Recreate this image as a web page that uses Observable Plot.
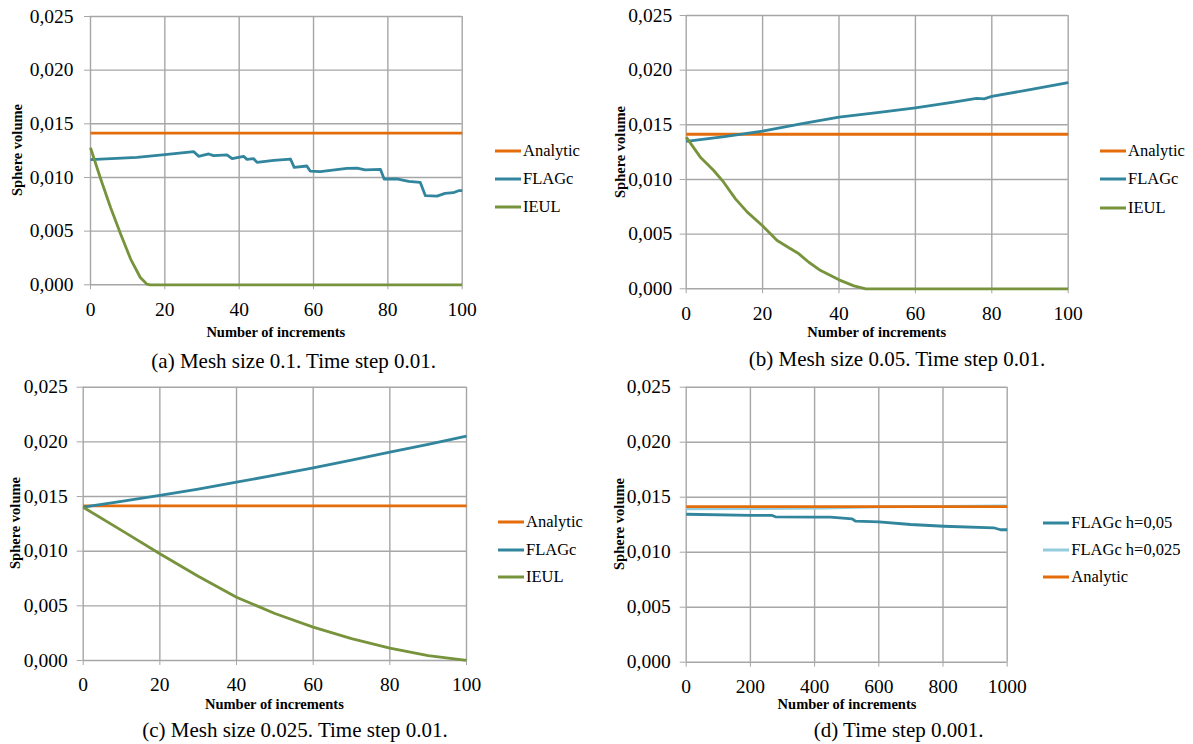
<!DOCTYPE html>
<html>
<head>
<meta charset="utf-8">
<script src="https://cdn.jsdelivr.net/npm/d3@7"></script>
<script src="https://cdn.jsdelivr.net/npm/@observablehq/plot@0.6"></script>
<style>
  html, body { margin: 0; padding: 0; background: #fff; }
  #root { position: relative; width: 1193px; height: 744px; overflow: hidden; font-family: "Liberation Serif", "Times New Roman", serif; color: #000; }
  .panel { position: absolute; overflow: visible; }
  .t { position: absolute; white-space: nowrap; transform: translate(-50%, -50%); line-height: 1; }
  .xt { font-weight: bold; font-size: 14.5px; }
  .yt { font-weight: bold; font-size: 14.5px; transform: translate(-50%, -50%) rotate(-90deg); }
  .cap { font-size: 21px; }
  .leg { position: absolute; display: flex; align-items: center; height: 20px; font-size: 16.5px; white-space: nowrap; }
  .leg svg { margin-right: 2px; }
</style>
</head>
<body>
<div id="root"></div>
<script>
// ---------- data (volumes in units of 0.001) ----------
const analyticVolume = 0.014137;
const yTicks = [0, 0.005, 0.010, 0.015, 0.020, 0.025];
const xTicks100 = [0, 20, 40, 60, 80, 100];
const xTicks1000 = [0, 200, 400, 600, 800, 1000];

// (a) Mesh size 0.1
const aFlagX = [0, 12.5, 20, 27.8, 29.1, 31.8, 33.1, 36.7, 38.1, 41.2, 42.1, 43.9, 44.8, 49.3, 53.8, 54.8, 58.2, 59.1, 61.8, 69, 71.7, 73.9, 78, 79, 82.4, 85.6, 88.7, 90.1, 93.2, 95.4, 97.6, 99, 100];
const aFlagY = [11.66, 11.88, 12.13, 12.4, 11.97, 12.19, 12.03, 12.1, 11.75, 11.97, 11.69, 11.75, 11.41, 11.6, 11.72, 10.94, 11.07, 10.6, 10.54, 10.85, 10.88, 10.7, 10.76, 9.86, 9.86, 9.64, 9.55, 8.3, 8.27, 8.52, 8.58, 8.77, 8.77];
const aIeulX = [0, 2.7, 5.4, 8.1, 10.8, 13.4, 15.2, 16, 100];
const aIeulY = [12.77, 9.9, 7.21, 4.73, 2.4, 0.68, 0.06, 0, 0];

// (b) Mesh size 0.05
const bFlagX = [0, 10, 20, 30, 40, 50, 60, 70, 76, 78, 80, 90, 100];
const bFlagY = [13.48, 13.93, 14.42, 15.08, 15.7, 16.12, 16.56, 17.07, 17.42, 17.38, 17.6, 18.22, 18.85];
const bIeulX = [0, 3.7, 7.2, 9.8, 12.9, 16, 19.9, 23.8, 26.9, 29.5, 32.1, 35.2, 40, 43.9, 47, 100];
const bIeulY = [13.87, 12.04, 10.82, 9.75, 8.23, 7.01, 5.79, 4.42, 3.75, 3.2, 2.43, 1.67, 0.82, 0.27, 0, 0];

// (c) Mesh size 0.025
const cFlagX = [0, 10, 20, 30, 40, 50, 60, 70, 80, 90, 100];
const cFlagY = [14.02, 14.55, 15.1, 15.68, 16.31, 16.95, 17.63, 18.33, 19.06, 19.78, 20.52];
const cIeulX = [0, 10, 20, 30, 40, 50, 60, 70, 80, 90, 100];
const cIeulY = [14.02, 11.9, 9.76, 7.7, 5.79, 4.3, 3.05, 2.0, 1.13, 0.45, 0.02];

// (d) Time step 0.001
const dFlag05X = [0, 200, 268, 278, 400, 449, 517, 527, 600, 699, 803, 958, 979, 1000];
const dFlag05Y = [13.45, 13.34, 13.34, 13.22, 13.18, 13.18, 13.03, 12.82, 12.76, 12.52, 12.36, 12.22, 12.04, 12.04];
const dFlag025X = [0, 200, 430, 600, 800, 1000];
const dFlag025Y = [13.93, 13.96, 14.0, 14.12, 14.16, 14.2];

// ---------- styles ----------
const C_ANALYTIC = "#E46C0A";
const C_FLAG = "#31859C";
const C_IEUL = "#77933C";
const C_FLAG025 = "#93CDDD";
const GRID = "#a6a6a6";
const LW = 2.8;
const SERIF = '"Liberation Serif", "Times New Roman", serif';

const series = (xs, ys) => xs.map((x, i) => ({x, y: ys[i] / 1000}));
const flat = (x0, x1) => [{x: x0, y: analyticVolume}, {x: x1, y: analyticVolume}];
const fmt = d => d.toFixed(3).replace(".", ",");

const root = document.getElementById("root");

function panel({left, top, width, height, ml, mr, mt, mb, xmax, xticks, ypad, lines}) {
  const chart = Plot.plot({
    width, height,
    marginLeft: ml, marginRight: mr, marginTop: mt, marginBottom: mb,
    x: {domain: [0, xmax]},
    y: {domain: [0, 0.025]},
    style: {background: "transparent", overflow: "visible"},
    marks: [
      Plot.gridX(xticks, {stroke: GRID, strokeOpacity: 1, strokeWidth: 1.4}),
      Plot.gridY(yTicks, {stroke: GRID, strokeOpacity: 1, strokeWidth: 1.4}),
      Plot.axisX(xticks, {tickSize: 5, tickPadding: 12, stroke: GRID, fill: "#000", label: null, fontSize: 19.5, tickFormat: d => String(d)}),
      Plot.axisY(yTicks, {tickSize: 6, tickPadding: ypad, stroke: GRID, fill: "#000", label: null, fontSize: 19.5, tickFormat: fmt}),
      ...lines.map(s => Plot.line(s.data, {x: "x", y: "y", stroke: s.color, strokeWidth: LW, strokeLinejoin: "round", strokeLinecap: "butt"}))
    ]
  });
  chart.classList.add("panel");
  chart.style.left = left + "px";
  chart.style.top = top + "px";
  chart.setAttribute("font-family", SERIF);
  chart.style.fontFamily = SERIF;
  d3.select(chart).selectAll("g, text").attr("font-family", SERIF).style("font-family", SERIF);
  root.appendChild(chart);
}

function text(cls, str, x, y) {
  const d = document.createElement("div");
  d.className = "t " + cls;
  d.textContent = str;
  d.style.left = x + "px";
  d.style.top = y + "px";
  root.appendChild(d);
}

function legend(x, ys, items) {
  items.forEach((it, i) => {
    const d = document.createElement("div");
    d.className = "leg";
    d.style.left = x + "px";
    d.style.top = (ys[i] - 10) + "px";
    const svg = d3.create("svg").attr("width", 26).attr("height", 20);
    svg.append("line").attr("x1", 0).attr("x2", 26).attr("y1", 10).attr("y2", 10)
      .attr("stroke", it.color).attr("stroke-width", 3);
    d.appendChild(svg.node());
    const s = document.createElement("span");
    s.textContent = it.label;
    d.appendChild(s);
    root.appendChild(d);
  });
}

// (a)
panel({left: 0, top: 0, width: 600, height: 370, ml: 90, mr: 138.3, mt: 16, mb: 85.7, xmax: 100, xticks: xTicks100, ypad: 11,
  lines: [
    {data: flat(0, 100), color: C_ANALYTIC},
    {data: series(aFlagX, aFlagY), color: C_FLAG},
    {data: series(aIeulX, aIeulY), color: C_IEUL}
  ]});
text("yt", "Sphere volume", 16.5, 150);
text("xt", "Number of increments", 275.8, 331.7);
text("cap", "(a) Mesh size 0.1. Time step 0.01.", 293.7, 361);
legend(495, [150.7, 179.3, 207.3], [
  {label: "Analytic", color: C_ANALYTIC}, {label: "FLAGc", color: C_FLAG}, {label: "IEUL", color: C_IEUL}]);

// (b)
panel({left: 600, top: 0, width: 593, height: 370, ml: 85.7, mr: 125.3, mt: 15, mb: 81.7, xmax: 100, xticks: xTicks100, ypad: 8,
  lines: [
    {data: flat(0, 100), color: C_ANALYTIC},
    {data: series(bFlagX, bFlagY), color: C_FLAG},
    {data: series(bIeulX, bIeulY), color: C_IEUL}
  ]});
text("yt", "Sphere volume", 619.5, 151.6);
text("xt", "Number of increments", 876.7, 331.7);
text("cap", "(b) Mesh size 0.05. Time step 0.01.", 897, 358.5);
legend(1100, [150.7, 179.3, 208.3], [
  {label: "Analytic", color: C_ANALYTIC}, {label: "FLAGc", color: C_FLAG}, {label: "IEUL", color: C_IEUL}]);

// (c)
panel({left: 0, top: 370, width: 600, height: 374, ml: 82.7, mr: 134, mt: 16.7, mb: 84, xmax: 100, xticks: xTicks100, ypad: 9.5,
  lines: [
    {data: flat(0, 100), color: C_ANALYTIC},
    {data: series(cFlagX, cFlagY), color: C_FLAG},
    {data: series(cIeulX, cIeulY), color: C_IEUL}
  ]});
text("yt", "Sphere volume", 15.4, 523);
text("xt", "Number of increments", 274.4, 703.5);
text("cap", "(c) Mesh size 0.025. Time step 0.01.", 295, 730);
legend(498, [522.3, 550, 576.7], [
  {label: "Analytic", color: C_ANALYTIC}, {label: "FLAGc", color: C_FLAG}, {label: "IEUL", color: C_IEUL}]);

// (d)
panel({left: 600, top: 370, width: 593, height: 374, ml: 85.7, mr: 186.3, mt: 16.7, mb: 82.3, xmax: 1000, xticks: xTicks1000, ypad: 9.5,
  lines: [
    {data: series(dFlag05X, dFlag05Y), color: C_FLAG},
    {data: series(dFlag025X, dFlag025Y), color: C_FLAG025},
    {data: flat(0, 1000), color: C_ANALYTIC}
  ]});
text("yt", "Sphere volume", 619, 524);
text("xt", "Number of increments", 847, 704);
text("cap", "(d) Time step 0.001.", 898.6, 730);
legend(1043.3, [523.3, 550, 576.7], [
  {label: "FLAGc h=0,05", color: C_FLAG}, {label: "FLAGc h=0,025", color: C_FLAG025}, {label: "Analytic", color: C_ANALYTIC}]);
</script>
</body>
</html>
